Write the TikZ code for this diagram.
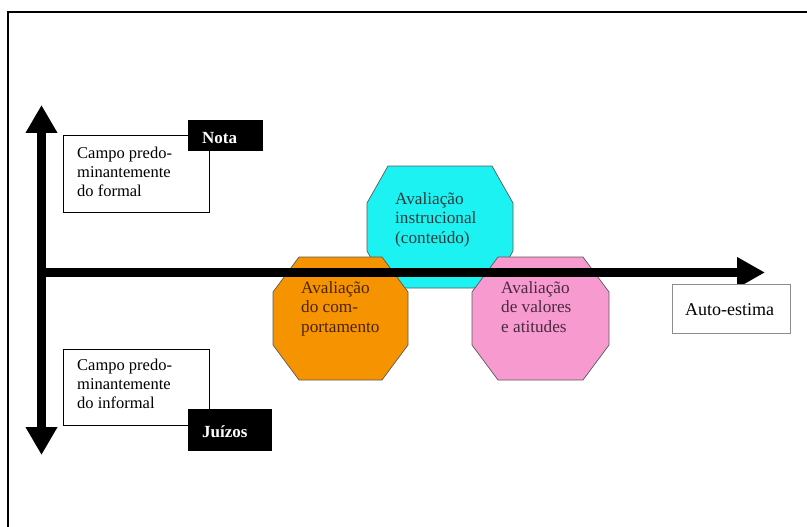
\documentclass[tikz,border=0pt]{standalone}
\usepackage{fontspec}
\setmainfont{Liberation Serif}
\usetikzlibrary{arrows.meta}
\definecolor{cyanfill}{HTML}{1CF2F2}
\definecolor{orangefill}{HTML}{F59400}
\definecolor{pinkfill}{HTML}{F79ACF}
\definecolor{octline}{HTML}{5A5A5A}
\definecolor{cyantext}{HTML}{2E3A3A}
\definecolor{orangetext}{HTML}{4A2400}
\definecolor{pinktext}{HTML}{4A2A40}
\tikzset{
  txt/.style={anchor=base west, inner sep=0pt, align=left, font=\fontsize{16.5}{19}\selectfont},
  octtxt/.style={txt, font=\fontsize{17.2}{19.5}\selectfont},
  framebox/.style={draw=black, line width=0.9pt, fill=white, inner sep=0pt},
  blackbox/.style={fill=black, draw=black, inner sep=0pt},
  whitetxt/.style={anchor=base west, inner sep=0pt, text=white, font=\fontsize{17}{19}\selectfont\bfseries},
  graybox/.style={draw=black!45, line width=0.8pt, fill=white, inner sep=0pt},
  octo/.style={draw=octline, line width=0.7pt},
  axis/.style={line width=9.5pt, draw=black},
}
% \octpath{left}{top}{right}{bottom}{hcut}{vcut}
\newcommand{\octpath}[6]{(#1+#5,#2) -- (#3-#5,#2) -- (#3,#2+#6) -- (#3,#4-#6) -- (#3-#5,#4) -- (#1+#5,#4) -- (#1,#4-#6) -- (#1,#2+#6) -- cycle}
\begin{document}
\begin{tikzpicture}[x=1pt,y=-1pt]
\useasboundingbox (0,0) rectangle (807,527);
% outer frame (cut by the page)
\draw[line width=2pt] (8,527) -- (8,12.5) -- (807,12.5);

% octagons
\fill[cyanfill] \octpath{367}{166}{513}{288}{21}{37};
\draw[octo] \octpath{367}{166}{513}{288}{21}{37};
\fill[orangefill] \octpath{273}{257}{408}{380}{26}{35};
\draw[octo] \octpath{273}{257}{408}{380}{26}{35};
\fill[pinkfill] \octpath{472}{257}{609}{380}{26}{35};
\draw[octo] \octpath{472}{257}{609}{380}{26}{35};

% axes
\coordinate (vtop) at (41.5,105);
\coordinate (vbot) at (41.5,455);
\coordinate (horig) at (37,272.5);
\coordinate (hend) at (765,272.5);
\draw[axis, {Triangle[width=30pt,length=28pt]}-{Triangle[width=30pt,length=28pt]}] (vtop) -- (vbot);
\draw[axis, -{Triangle[width=29pt,length=28pt]}] (horig) -- (hend);

% octagon texts (anchor = baseline of last line)
\node[octtxt, text=cyantext] (instr) at (395,243) {Avaliação\\instrucional\\(conteúdo)};
\node[octtxt, text=orangetext] (comp) at (301,332) {Avaliação\\do com-\\portamento};
\node[octtxt, text=pinktext] (valores) at (501,332) {Avaliação\\de valores\\e atitudes};

% top box
\node[framebox, minimum width=146pt, minimum height=77pt] (formalbox) at (136,173.5) {};
\node[txt] (formal) at (77,196) {Campo predo-\\minantemente\\do formal};
\node[blackbox, minimum width=74pt, minimum height=30pt] (notabox) at (225,135) {};
\node[whitetxt] (nota) at (202,143) {Nota};

% bottom box
\node[framebox, minimum width=146pt, minimum height=76pt] (informalbox) at (136,387) {};
\node[txt] (informal) at (77,408) {Campo predo-\\minantemente\\do informal};
\node[blackbox, minimum width=83pt, minimum height=41pt] (juizosbox) at (229.5,429.5) {};
\node[whitetxt] (juizos) at (202,437) {Juízos};

% auto-estima
\node[graybox, minimum width=118pt, minimum height=49pt] (autobox) at (731,308.5) {};
\node[txt, font=\fontsize{18}{20}\selectfont] (auto) at (685,315) {Auto-estima};
\end{tikzpicture}
\end{document}
